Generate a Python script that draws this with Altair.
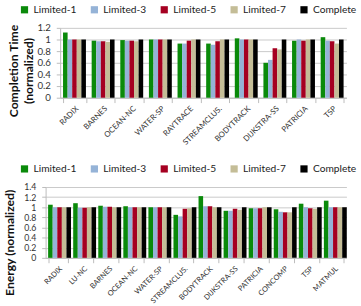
import altair as alt
import pandas as pd

series = ["Limited-1", "Limited-3", "Limited-5", "Limited-7", "Complete"]
colors = ["#0a8a0a", "#95b3d7", "#a50021", "#c4bd97", "#000000"]

time_cats = ["RADIX", "BARNES", "OCEAN-NC", "WATER-SP", "RAYTRACE", "STREAMCLUS.",
             "BODYTRACK", "DIJKSTRA-SS", "PATRICIA", "TSP"]
time_l1 = [1.12, 0.98, 0.99, 1.00, 0.93, 0.93, 1.02, 0.60, 0.98, 1.04]
time_l3 = [1.00, 0.97, 0.98, 1.00, 0.93, 0.91, 1.00, 0.65, 1.00, 0.98]
time_l5 = [1.00, 0.97, 0.98, 1.00, 0.98, 0.97, 1.00, 0.85, 0.98, 0.97]
time_l7 = [1.00, 0.96, 0.97, 1.00, 1.00, 1.00, 1.00, 0.83, 1.00, 0.93]
time_c = [1.00] * 10

en_cats = ["RADIX", "LU-NC", "BARNES", "OCEAN-NC", "WATER-SP", "STREAMCLUS.",
           "BODYTRACK", "DIJKSTRA-SS", "PATRICIA", "CONCOMP", "TSP", "MATMUL"]
en_l1 = [1.05, 1.08, 1.03, 1.02, 1.00, 0.85, 1.22, 0.93, 0.98, 0.96, 1.07, 1.13]
en_l3 = [1.00, 0.99, 1.01, 1.00, 1.00, 0.82, 1.02, 0.93, 0.98, 0.91, 1.00, 1.00]
en_l5 = [1.00, 0.99, 1.01, 1.00, 1.00, 0.97, 1.02, 0.97, 0.98, 0.90, 0.98, 1.00]
en_l7 = [1.00, 1.00, 1.00, 1.00, 1.00, 0.98, 1.00, 0.95, 1.00, 0.90, 0.97, 1.00]
en_c = [1.00] * 12


def make_df(cats, cols):
    rows = []
    for i, c in enumerate(cats):
        for s, vals in zip(series, cols):
            rows.append({"bench": c, "series": s, "value": vals[i]})
    return pd.DataFrame(rows)


FONT = "Lato"
W = 310


def panel(df, cats, ymax, title, h, shift, title_pad, title_y, label_size, ylabel_size):
    xscale = alt.Scale(paddingInner=0.2, paddingOuter=0.1, range=[shift, W]) if shift else \
        alt.Scale(paddingInner=0.2, paddingOuter=0.1)
    yaxis_kw = dict(offset=-shift) if shift else {}
    return alt.Chart(df).mark_bar().encode(
        x=alt.X("bench:N", sort=cats, title=None, scale=xscale,
                axis=alt.Axis(labelAngle=-45, labelFontSize=label_size, tickBand="extent",
                              labelColor="#333", domainColor="#bbb", tickColor="#bbb",
                              labelFont=FONT, labelPadding=2)),
        xOffset=alt.XOffset("series:N", sort=series),
        y=alt.Y("value:Q", title=title,
                scale=alt.Scale(domain=[0, ymax], nice=False),
                axis=alt.Axis(values=[round(0.2 * k, 1) for k in range(int(round(ymax / 0.2)) + 1)],
                              format="~g", labelFontSize=ylabel_size, labelFont=FONT,
                              labelColor="#333", titleFont=FONT, titleFontSize=12.5,
                              titleFontWeight="bold", titleColor="#111",
                              domainColor="#bbb", tickColor="#bbb", tickSize=4,
                              labelPadding=6,
                              gridColor="#c8c8c8", titlePadding=title_pad,
                              titleY=title_y, **yaxis_kw)),
        color=alt.Color("series:N", sort=series,
                        scale=alt.Scale(domain=series, range=colors),
                        legend=alt.Legend(orient="none", legendX=-27, legendY=-24,
                                          direction="horizontal", title=None,
                                          symbolType="square",
                                          symbolSize=55, labelFontSize=10.5, labelFont=FONT,
                                          labelColor="#222", columnPadding=13,
                                          symbolStrokeWidth=0)),
    ).properties(width=W, height=h)


top = panel(make_df(time_cats, [time_l1, time_l3, time_l5, time_l7, time_c]),
            time_cats, 1.2, ["Completion Time", "(normalized)"], 72, 15, 2, 44, 8, 10)
bot = panel(make_df(en_cats, [en_l1, en_l3, en_l5, en_l7, en_c]),
            en_cats, 1.4, "Energy (normalized)", 73, 0, 8, 57, 7.6, 9)

chart = alt.vconcat(top, bot, spacing=17).resolve_legend(color="independent").resolve_scale(
    color="independent", x="independent").properties(padding={"left": 3, "top": 0, "right": 4, "bottom": 0}
).configure_view(stroke=None)

chart.save("out.html", embed_options={"renderer": "svg", "actions": False})
